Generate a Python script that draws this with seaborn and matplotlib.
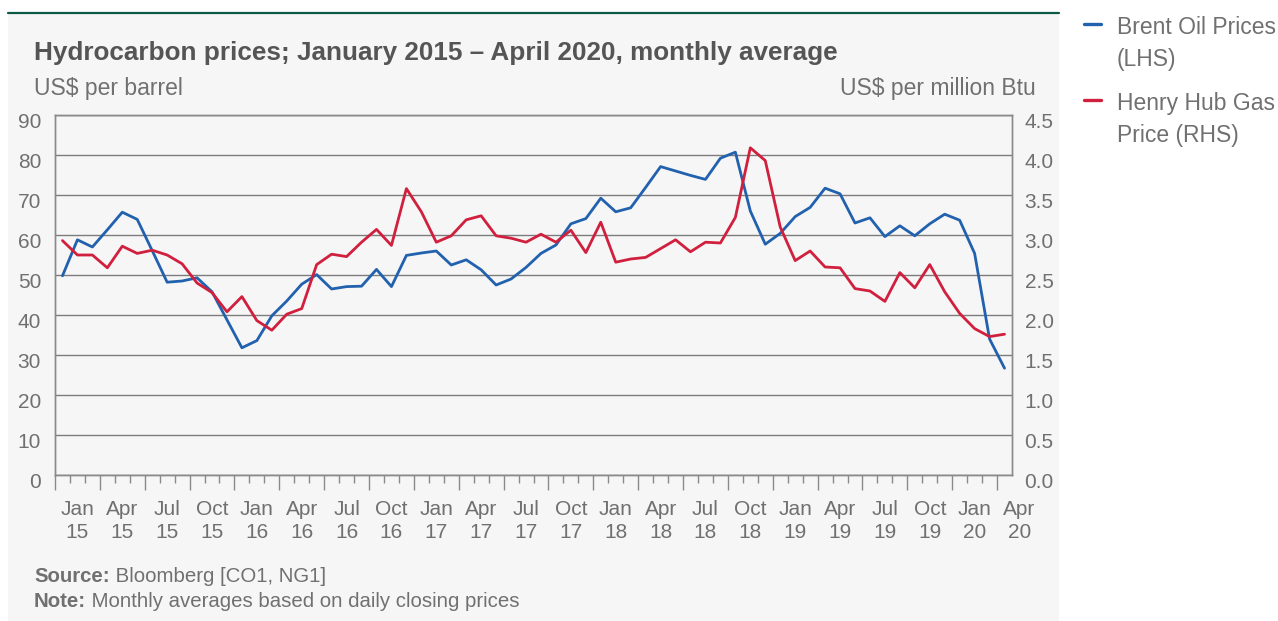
import numpy as np
import pandas as pd
import matplotlib
matplotlib.use("Agg")
import matplotlib.pyplot as plt
import matplotlib.transforms as mtransforms
from matplotlib.patches import Rectangle
from matplotlib.lines import Line2D
import seaborn as sns

# ---------------- data ----------------
months = pd.date_range("2015-01-01", "2020-04-01", freq="MS").strftime("%b %y").tolist()

brent = [
    49.8, 58.8, 57.0, 61.3, 65.7, 63.9, 56.1, 48.2, 48.5, 49.3, 45.8, 38.8,   # 2015
    31.8, 33.6, 39.8, 43.5, 47.7, 50.1, 46.5, 47.1, 47.2, 51.4, 47.1, 54.9,   # 2016
    55.5, 56.0, 52.5, 53.8, 51.3, 47.5, 49.0, 51.9, 55.4, 57.5, 62.8, 64.1,   # 2017
    69.2, 65.8, 66.8, 71.9, 77.1, 76.0, 74.9, 73.9, 79.2, 80.7, 66.0, 57.7,   # 2018
    60.4, 64.6, 66.9, 71.7, 70.3, 63.0, 64.3, 59.6, 62.3, 59.8, 62.8, 65.2,   # 2019
    63.7, 55.4, 34.0, 26.7,                                                   # 2020
]
henry_hub = [
    2.93, 2.75, 2.75, 2.59, 2.86, 2.77, 2.81, 2.75, 2.64, 2.40, 2.28, 2.04,
    2.23, 1.93, 1.81, 2.01, 2.08, 2.63, 2.76, 2.73, 2.91, 3.07, 2.87, 3.58,
    3.29, 2.91, 2.99, 3.19, 3.24, 2.99, 2.96, 2.91, 3.01, 2.91, 3.06, 2.78,
    3.16, 2.66, 2.70, 2.72, 2.83, 2.94, 2.79, 2.91, 2.90, 3.22, 4.09, 3.93,
    3.10, 2.68, 2.80, 2.60, 2.59, 2.33, 2.30, 2.17, 2.53, 2.34, 2.63, 2.29,
    2.02, 1.83, 1.73, 1.76,
]
quarter_labels = ["Jan\n15", "Apr\n15", "Jul\n15", "Oct\n15",
                  "Jan\n16", "Apr\n16", "Jul\n16", "Oct\n16",
                  "Jan\n17", "Apr\n17", "Jul\n17", "Oct\n17",
                  "Jan\n18", "Apr\n18", "Jul\n18", "Oct\n18",
                  "Jan\n19", "Apr\n19", "Jul\n19", "Oct\n19",
                  "Jan\n20", "Apr\n20"]
left_ticks = [0, 10, 20, 30, 40, 50, 60, 70, 80, 90]
right_ticks = [0.0, 0.5, 1.0, 1.5, 2.0, 2.5, 3.0, 3.5, 4.0, 4.5]
series_names = ["Brent Oil Prices\n(LHS)", "Henry Hub Gas\nPrice (RHS)"]

title = "Hydrocarbon prices; January 2015 \u2013 April 2020, monthly average"
left_unit = "US$ per barrel"
right_unit = "US$ per million Btu"
source_text = " Bloomberg [CO1, NG1]"
note_text = " Monthly averages based on daily closing prices"

# ---------------- style ----------------
W, H = 1278, 621
BLUE = "#2161ad"
RED = "#d11f3e"
PANEL = "#f6f6f6"
GREEN = "#0c5a45"
GRID = "#7c7c7c"
TXT = "#707070"
TITLE_C = "#555555"

sns.set_theme(style="white")
plt.rcParams["font.family"] = ["Liberation Sans", "DejaVu Sans"]

fig = plt.figure(figsize=(W / 100, H / 100), dpi=100)
fig.patch.set_facecolor("white")
fig.patches.append(Rectangle((8 / W, 0), 1051 / W, (H - 14) / H,
                             transform=fig.transFigure, facecolor=PANEL,
                             edgecolor="none", zorder=-10))
fig.add_artist(Line2D([8 / W, 1059 / W], [1 - 13 / H] * 2, color=GREEN, lw=1.6, zorder=-5))

ax = fig.add_axes([55 / W, 1 - 475 / H, 957 / W, 360 / H])
ax.set_facecolor(PANEL)

df = pd.DataFrame({"idx": np.arange(len(months)), "month": months,
                   "brent": brent, "henry_hub": henry_hub})

sns.lineplot(data=df, x="idx", y="brent", ax=ax, color=BLUE, lw=2.0, legend=False)
ax2 = ax.twinx()
sns.lineplot(data=df, x="idx", y="henry_hub", ax=ax2, color=RED, lw=2.0, legend=False)

n = len(months)
ax.set_xlim(-0.5, n - 0.5)
ax.set_ylim(0, 90)
ax2.set_ylim(0, 4.5)
for a in (ax, ax2):
    a.set_xlabel("")
    a.set_ylabel("")
    for s in a.spines.values():
        s.set_color("#8a8a8a")
        s.set_linewidth(1.0)

ax.set_yticks(left_ticks)
ax.set_yticklabels([str(v) for v in left_ticks])
ax2.set_yticks(right_ticks)
ax2.set_yticklabels([f"{v:.1f}" for v in right_ticks])
ax.yaxis.grid(True, color=GRID, lw=1.0)
ax.xaxis.grid(False)
ax.set_axisbelow(True)

ax.tick_params(axis="y", length=0, pad=10, labelsize=15, labelcolor=TXT)
ax2.tick_params(axis="y", length=0, pad=9, labelsize=15, labelcolor=TXT)

# month boundary ticks (major each quarter, minor each month)
ax.set_xticks(np.arange(0, n, 3) - 0.5)
ax.set_xticks(np.arange(0, n) - 0.5, minor=True)
ax.set_xticklabels([])
ax.tick_params(axis="x", which="major", bottom=True, length=10.5, width=1.0,
               color="#8a8a8a", direction="out")
ax.tick_params(axis="x", which="minor", bottom=True, length=5.5, width=1.0,
               color="#8a8a8a", direction="out")
ax2.tick_params(axis="x", which="both", bottom=False, top=False)

off = mtransforms.ScaledTranslation(0, -6 / 100, fig.dpi_scale_trans)
for lab in ax.get_yticklabels() + ax2.get_yticklabels():
    lab.set_transform(lab.get_transform() + off)

# quarter labels, centred on the middle month of each quarter
lab_tr = mtransforms.blended_transform_factory(ax.transData, ax.transAxes) + \
    mtransforms.ScaledTranslation(0, -25 / 100, fig.dpi_scale_trans)
for k, lab in enumerate(quarter_labels):
    ax.text(1 + 3 * k, 0, lab, transform=lab_tr, ha="center", va="top",
            fontsize=15, color=TXT, linespacing=1.25, clip_on=False)

# titles
fig.text(34 / W, 1 - 60 / H, title, fontsize=18.8, fontweight="bold",
         color=TITLE_C, va="baseline", ha="left")
fig.text(34 / W, 1 - 95 / H, left_unit, fontsize=16.5, color=TXT, va="baseline", ha="left")
fig.text(1036 / W, 1 - 95 / H, right_unit, fontsize=16.5, color=TXT, va="baseline", ha="right")

# source / note
t1 = fig.text(34 / W, 1 - 582 / H, "Source:", fontsize=14.7, fontweight="bold",
              color=TXT, va="baseline", ha="left")
fig.add_artist(matplotlib.text.Annotation(source_text, xy=(1, 0), xycoords=t1,
                                          va="bottom", ha="left", fontsize=14.7, color=TXT))
t2 = fig.text(34 / W, 1 - 607 / H, "Note:", fontsize=14.7, fontweight="bold",
              color=TXT, va="baseline", ha="left")
fig.add_artist(matplotlib.text.Annotation(note_text, xy=(1, 0), xycoords=t2,
                                          va="bottom", ha="left", fontsize=14.7, color=TXT))

# legend
handles = [ax.get_lines()[0], ax2.get_lines()[0]]
leg = fig.legend(handles, series_names, loc="upper left",
                 bbox_to_anchor=(1084 / W, 1 - 16 / H), frameon=False,
                 borderpad=0, borderaxespad=0, handlelength=0.72,
                 handletextpad=0.7, labelspacing=0.9, fontsize=16.5)
for t in leg.get_texts():
    t.set_color(TXT)
    t.set_linespacing(1.52)
for line in leg.get_lines():
    line.set_linewidth(2.4)
for col in leg._legend_handle_box.get_children():
    for item in col.get_children():
        item.align = "top"

fig.savefig("out.png", dpi=100, facecolor="white")
